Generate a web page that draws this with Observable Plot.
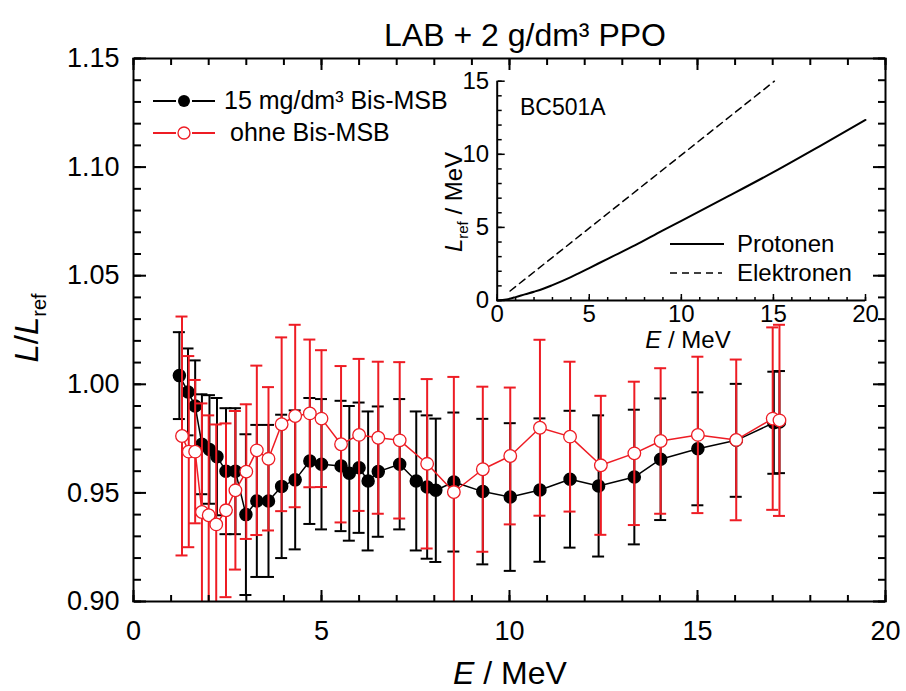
<!DOCTYPE html>
<html><head><meta charset="utf-8">
<script src="https://cdn.jsdelivr.net/npm/d3@7"></script>
<script src="https://cdn.jsdelivr.net/npm/@observablehq/plot@0.6"></script>
<style>
body{margin:0;background:#fff;}
#wrap{position:relative;width:906px;height:691px;}
#inset{position:absolute;left:420px;top:50px;}
</style></head><body><div id="wrap"><div id="main"></div><div id="inset"></div></div>
<script>
// ---- main chart data (L/Lref vs E / MeV) ----
const blackE = [1.22,1.45,1.64,1.82,2.02,2.22,2.46,2.71,2.99,3.28,3.59,3.94,4.30,4.69,5.00,5.52,5.74,6.00,6.24,6.51,7.08,7.52,7.81,8.04,8.52,9.29,10.02,10.81,11.61,12.37,13.32,14.02,15.01,16.03,17.03,17.18];
const blackL = [1.004,0.9965,0.990,0.9724,0.970,0.9667,0.960,0.960,0.940,0.9463,0.9463,0.953,0.956,0.9647,0.9632,0.9624,0.959,0.9616,0.9555,0.9598,0.9632,0.9555,0.9527,0.9512,0.955,0.9506,0.9481,0.9513,0.9563,0.9532,0.9573,0.9655,0.9703,0.9742,0.9823,0.9826];
const blackErr = [0.020,0.020,0.021,0.023,0.025,0.027,0.029,0.029,0.037,0.035,0.035,0.033,0.032,0.029,0.030,0.030,0.031,0.030,0.032,0.030,0.030,0.032,0.033,0.033,0.032,0.0335,0.034,0.033,0.0315,0.0325,0.031,0.028,0.026,0.026,0.0235,0.0235];

const redE = [1.29,1.47,1.64,1.82,2.00,2.20,2.46,2.71,3.00,3.28,3.59,3.94,4.30,4.69,5.00,5.52,6.00,6.51,7.08,7.81,8.52,9.29,10.02,10.81,11.61,12.43,13.32,14.02,15.01,16.03,17.00,17.18];
const redL = [0.9762,0.969,0.969,0.9412,0.9397,0.9355,0.942,0.9512,0.9598,0.9696,0.9657,0.9816,0.9854,0.9866,0.9842,0.9724,0.9767,0.9754,0.9742,0.9634,0.9504,0.9609,0.967,0.980,0.9759,0.9627,0.9682,0.9739,0.9767,0.9744,0.9842,0.9834];
const redErr = [0.055,0.044,0.033,0.050,0.046,0.046,0.040,0.0365,0.031,0.039,0.033,0.040,0.042,0.034,0.0315,0.036,0.035,0.035,0.036,0.039,0.053,0.038,0.0315,0.0405,0.0345,0.032,0.033,0.0335,0.036,0.037,0.042,0.044];

const xTicks = [0,5,10,15,20];
const yTicks = [0.90,0.95,1.00,1.05,1.10,1.15];
const xDomain = [0,20];
const yDomain = [0.90,1.15];

// ---- inset data (BC501A light output) ----
const protonE = [0,0.5,1,1.5,2,2.5,3,4,5,6,7.5,9,10,12.5,15,17.5,20];
const protonL = [0,0.07,0.23,0.42,0.6,0.8,1.05,1.6,2.22,2.85,3.78,4.8,5.45,7.1,8.78,10.55,12.35];
const electronE = [0.7,15.05];
const electronL = [0.65,15.0];
const insetXTicks = [0,5,10,15,20];
const insetYTicks = [0,5,10,15];

const titleText = "LAB + 2 g/dm³ PPO";
const seriesNames = ["15 mg/dm³ Bis-MSB","ohne Bis-MSB"];
const insetNames = ["Protonen","Elektronen"];

const RED = "#ee1c24";
const FONT = "'Liberation Sans', Arimo, Arial, sans-serif";

const black = blackE.map((e,i)=>({E:e,L:blackL[i],err:blackErr[i]}));
const red = redE.map((e,i)=>({E:e,L:redL[i],err:redErr[i]}));

function errorBars(data,color){
  return [
    Plot.ruleX(data,{x:"E",y1:d=>Math.max(yDomain[0],d.L-d.err),y2:d=>Math.min(yDomain[1],d.L+d.err),stroke:color,strokeWidth:2}),
    Plot.ruleY(data.filter(d=>d.L+d.err<=yDomain[1]),{y:d=>d.L+d.err,x1:"E",x2:"E",insetLeft:-6,insetRight:-6,stroke:color,strokeWidth:2}),
    Plot.ruleY(data.filter(d=>d.L-d.err>=yDomain[0]),{y:d=>d.L-d.err,x1:"E",x2:"E",insetLeft:-6,insetRight:-6,stroke:color,strokeWidth:2})
  ];
}
const xMinor = d3.range(xDomain[0],xDomain[1]+1,1);
const yMinor = d3.range(90,116,1).map(v=>v/100);

const W=906,H=691,mL=133,mR=21,mT=58,mB=90;
const fw=W-mL-mR, fh=H-mT-mB;

// inward ticks built from Plot's own axis marks: an axis anchored on the
// opposite side, shifted across the frame, so its ticks point inward
function inwardAxisTicks(xs,ys,len,sw,w,h){
  return [
    Plot.axisX({anchor:"top",ticks:xs,tickSize:len,dy:h,strokeWidth:sw,stroke:"black",fill:"none",label:null}),
    Plot.axisX({anchor:"bottom",ticks:xs,tickSize:len,dy:-h,strokeWidth:sw,stroke:"black",fill:"none",label:null}),
    Plot.axisY({anchor:"right",ticks:ys,tickSize:len,dx:-w,strokeWidth:sw,stroke:"black",fill:"none",label:null}),
    Plot.axisY({anchor:"left",ticks:ys,tickSize:len,dx:w,strokeWidth:sw,stroke:"black",fill:"none",label:null})
  ];
}

const main = Plot.plot({
  width:W,height:H,
  marginLeft:mL,marginRight:mR,marginTop:mT,marginBottom:mB,
  x:{domain:xDomain,label:null},
  y:{domain:yDomain,label:null},
  style:{fontFamily:FONT,color:"black",background:"white",overflow:"visible"},
  marks:[
    ...errorBars(black,"black"),
    Plot.line(black,{x:"E",y:"L",stroke:"black",strokeWidth:1.5}),
    Plot.dot(black,{x:"E",y:"L",r:6,fill:"black",stroke:"black"}),
    ...errorBars(red,RED),
    Plot.line(red,{x:"E",y:"L",stroke:RED,strokeWidth:1.5}),
    Plot.dot(red,{x:"E",y:"L",r:6.3,fill:"white",stroke:RED,strokeWidth:1.3}),
    ...inwardAxisTicks(xMinor,yMinor,7,2,fw,fh),
    ...inwardAxisTicks(xTicks,yTicks,12,2,fw,fh),
    Plot.frame({stroke:"black",strokeWidth:2}),
    Plot.axisX({anchor:"bottom",ticks:xTicks,tickSize:0,tickPadding:19,fontSize:27,label:null,tickFormat:d=>String(d)}),
    Plot.axisY({anchor:"left",ticks:yTicks,tickSize:0,tickPadding:14,fontSize:27,label:null,tickFormat:d3.format(".2f")})
  ]
});
document.getElementById("main").appendChild(main);

const svg = d3.select(main);
const tg = svg.append("g").attr("font-family",FONT).attr("fill","black");
tg.append("text").attr("x",525).attr("y",46).attr("text-anchor","middle").attr("font-size",32).text(titleText);
const xl = tg.append("text").attr("x",510).attr("y",684).attr("text-anchor","middle").attr("font-size",32);
xl.append("tspan").attr("font-style","italic").text("E");
xl.append("tspan").text(" / MeV");
const yl = tg.append("text").attr("transform","translate(38,328) rotate(-90)").attr("text-anchor","middle").attr("font-size",33);
yl.append("tspan").attr("font-style","italic").text("L");
yl.append("tspan").text("/");
yl.append("tspan").attr("font-style","italic").text("L");
yl.append("tspan").attr("font-size",20).attr("dy",8).text("ref");

// legend
const lg = svg.append("g").attr("font-family",FONT).attr("font-size",25).attr("text-anchor","start");
lg.append("line").attr("x1",153).attr("x2",176).attr("y1",101).attr("y2",101).attr("stroke","black").attr("stroke-width",2);
lg.append("line").attr("x1",192).attr("x2",215).attr("y1",101).attr("y2",101).attr("stroke","black").attr("stroke-width",2);
lg.append("circle").attr("cx",184).attr("cy",101).attr("r",6).attr("fill","black");
lg.append("text").attr("x",224).attr("y",109).attr("text-anchor","start").text(seriesNames[0]);
lg.append("line").attr("x1",153).attr("x2",176).attr("y1",133).attr("y2",133).attr("stroke",RED).attr("stroke-width",2);
lg.append("line").attr("x1",192).attr("x2",215).attr("y1",133).attr("y2",133).attr("stroke",RED).attr("stroke-width",2);
lg.append("circle").attr("cx",184).attr("cy",133).attr("r",6).attr("fill","white").attr("stroke",RED).attr("stroke-width",1.3);
lg.append("text").attr("x",230).attr("y",141).attr("text-anchor","start").text(seriesNames[1]);

// ---- inset ----
const proton = protonE.map((e,i)=>({E:e,L:protonL[i]}));
const electron = electronE.map((e,i)=>({E:e,L:electronL[i]}));
const insetXMinor = d3.range(0,21,1);
const insetYMinor = d3.range(0,16,1);
const IW=460,IH=305,iL=76.7,iR=15,iT=30.7,iB=55;
const ifw=IW-iL-iR, ifh=IH-iT-iB;
const inset = Plot.plot({
  width:IW,height:IH,
  marginLeft:iL,marginRight:iR,marginTop:iT,marginBottom:iB,
  x:{domain:[0,20],label:null},
  y:{domain:[0,15],label:null},
  style:{fontFamily:FONT,color:"black",background:"transparent",overflow:"visible"},
  marks:[
    Plot.line(proton,{x:"E",y:"L",stroke:"black",strokeWidth:2,curve:"monotone-x"}),
    Plot.line(electron,{x:"E",y:"L",stroke:"black",strokeWidth:1.5,strokeDasharray:"7,5"}),
    Plot.axisX({anchor:"top",ticks:insetXMinor,tickSize:4,dy:ifh,strokeWidth:1.5,stroke:"black",fill:"none",label:null}),
    Plot.axisX({anchor:"top",ticks:insetXTicks,tickSize:7,dy:ifh,strokeWidth:1.5,stroke:"black",fill:"none",label:null}),
    Plot.axisY({anchor:"right",ticks:insetYMinor,tickSize:4,dx:-ifw,strokeWidth:1.5,stroke:"black",fill:"none",label:null}),
    Plot.axisY({anchor:"right",ticks:insetYTicks,tickSize:7,dx:-ifw,strokeWidth:1.5,stroke:"black",fill:"none",label:null}),
    Plot.ruleX([0],{stroke:"black",strokeWidth:2}),
    Plot.ruleY([0],{stroke:"black",strokeWidth:2}),
    Plot.axisX({anchor:"bottom",ticks:insetXTicks,tickSize:0,tickPadding:4,fontSize:24,label:null}),
    Plot.axisY({anchor:"left",ticks:insetYTicks,tickSize:0,tickPadding:8,fontSize:24,label:null})
  ]
});
document.getElementById("inset").appendChild(inset);

const isv = d3.select(inset);
const ig = isv.append("g").attr("font-family",FONT).attr("fill","black").attr("font-size",24).attr("text-anchor","start");
// offsets: inset svg placed at (420,50)
ig.append("text").attr("x",520-420).attr("y",115-50).attr("font-size",23).attr("text-anchor","start").text("BC501A");
const ixl = ig.append("text").attr("x",688-420).attr("y",348-50).attr("text-anchor","middle");
ixl.append("tspan").attr("font-style","italic").text("E");
ixl.append("tspan").text(" / MeV");
const iyl = ig.append("text").attr("transform",`translate(${462-420},${202-50}) rotate(-90)`).attr("text-anchor","middle");
iyl.append("tspan").attr("font-style","italic").text("L");
iyl.append("tspan").attr("font-size",15).attr("dy",6).text("ref");
iyl.append("tspan").attr("dy",-6).text(" / MeV");
ig.append("line").attr("x1",670-420).attr("x2",724-420).attr("y1",244-50).attr("y2",244-50).attr("stroke","black").attr("stroke-width",2);
ig.append("text").attr("x",737-420).attr("y",252-50).attr("text-anchor","start").text(insetNames[0]);
ig.append("line").attr("x1",670-420).attr("x2",722-420).attr("y1",273-50).attr("y2",273-50).attr("stroke","black").attr("stroke-width",1.5).attr("stroke-dasharray","7,5");
ig.append("text").attr("x",737-420).attr("y",281-50).attr("text-anchor","start").text(insetNames[1]);
</script></body></html>
